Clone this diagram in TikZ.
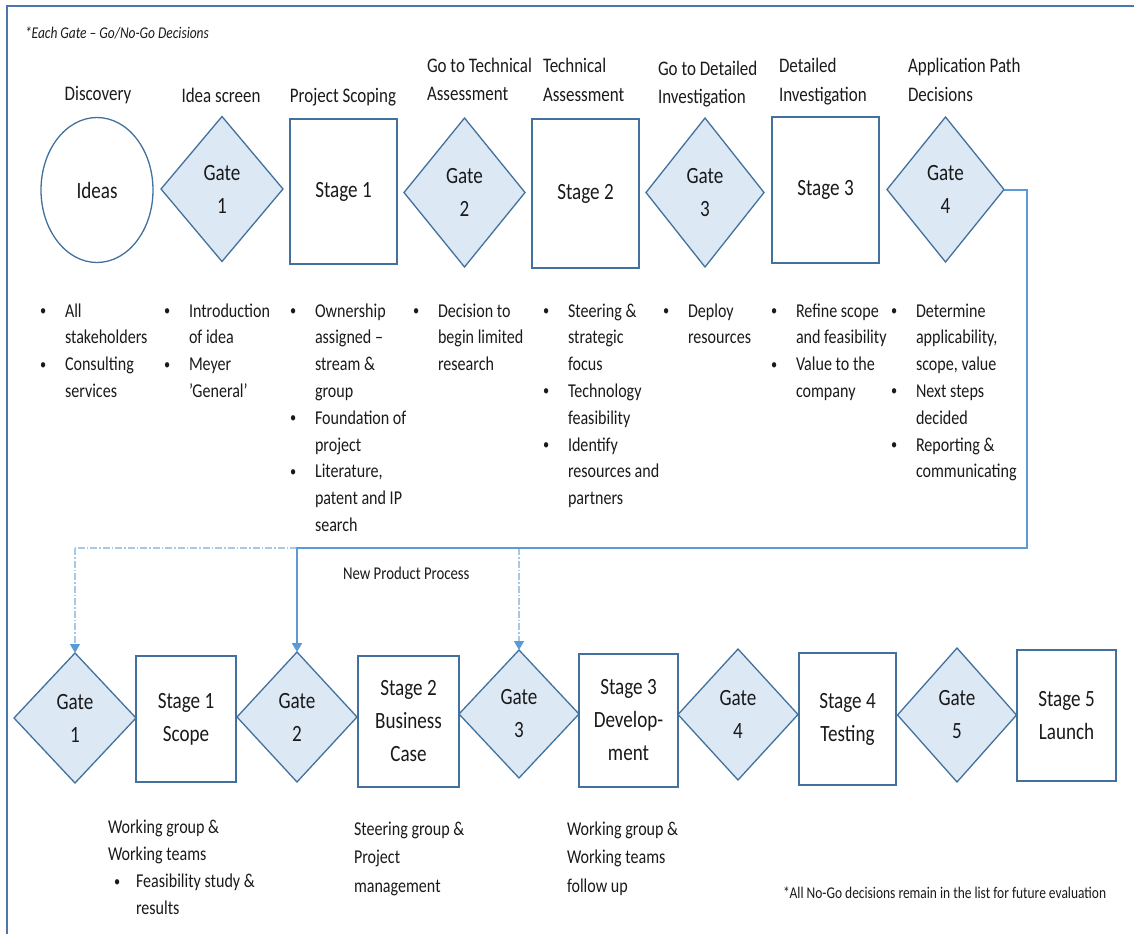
\documentclass[tikz,border=0pt]{standalone}
\usepackage{fontspec}
\setmainfont{Carlito}[FakeStretch=0.82]
\usetikzlibrary{shapes.geometric,arrows.meta}

\definecolor{edgeblue}{HTML}{41719C}
\definecolor{gatefill}{HTML}{DDE8F5}
\definecolor{flowblue}{HTML}{5B9BD5}
\definecolor{flowpale}{HTML}{A9C8E8}
\definecolor{frameblue}{HTML}{4A78AE}
\definecolor{ink}{HTML}{1A1A1A}

% font sizes (1pt = one unit of the drawing)
\newcommand{\headfont}{\fontsize{20.7}{28.5}\selectfont}
\newcommand{\shapefont}{\fontsize{23.3}{33}\selectfont}
\newcommand{\listfont}{\fontsize{19.6}{26.8}\selectfont}
\newcommand{\notefont}{\fontsize{19.6}{27.3}\selectfont}
\newcommand{\notefontb}{\fontsize{19.6}{28.5}\selectfont}
\newcommand{\smallnote}{\fontsize{18}{20}\selectfont}
\newcommand{\tinynote}{\fontsize{16.4}{18}\selectfont}

% bullet list helpers
\newcommand{\bulletdot}{\raisebox{1.5pt}{\fontsize{15}{15}\selectfont •}}
\newcommand{\bul}{\makebox[25pt][l]{\bulletdot}}
\newcommand{\ind}{\hspace*{25pt}}
\newcommand{\textblock}[2]{\parbox[t]{220pt}{#1\raggedright #2}}

\begin{document}
\begin{tikzpicture}[x=1pt, y=-1pt,
  every node/.style={inner sep=0pt, outer sep=0pt, text=ink},
  gate/.style={diamond, draw=edgeblue, fill=gatefill, line width=1.3pt,
    align=center, font=\shapefont},
  stagebox/.style={rectangle, draw=edgeblue, fill=white, line width=1.3pt,
    align=center, font=\shapefont},
  idea/.style={ellipse, draw=edgeblue, fill=white, line width=1.3pt,
    font=\shapefont},
  heading/.style={anchor=base west},
  title/.style={anchor=base, font=\headfont},
  block/.style={anchor=base west},
  flowline/.style={draw=flowblue, line width=2pt,
    -{Triangle[width=10pt,length=9pt,color=flowblue]}},
  paleline/.style={draw=flowpale, line width=1.3pt,
    dash pattern=on 7pt off 2pt on 1.5pt off 2pt},
  paletip/.style={paleline,
    -{Triangle[width=10pt,length=9pt,color=flowblue]}}
]
\useasboundingbox (0,0) rectangle (1134,934);

% open frame
\draw[frameblue, line width=2pt] (7,934) -- (7,6) -- (1134,6);

\node[block, font=\tinynote\itshape] (eachgate) at (25,38)
  {*Each Gate – Go/No-Go Decisions};

% ---------- upper row: front end ----------
\node[idea, minimum width=112pt, minimum height=145pt] (ideas) at (97,190) {Ideas};
\node[gate, minimum width=122pt, minimum height=145pt] (tg1) at (222,189) {Gate\\1};
\node[stagebox, minimum width=107pt, minimum height=145pt] (ts1) at (343.5,191.5) {Stage 1};
\node[gate, minimum width=121pt, minimum height=149pt] (tg2) at (464.5,192.5) {Gate\\2};
\node[stagebox, minimum width=107pt, minimum height=149pt] (ts2) at (585.5,193.5) {Stage 2};
\node[gate, minimum width=118pt, minimum height=149pt] (tg3) at (705,192.5) {Gate\\3};
\node[stagebox, minimum width=107pt, minimum height=146pt] (ts3) at (825.5,190) {Stage 3};
\node[gate, minimum width=117pt, minimum height=145pt] (tg4) at (945.5,189.5) {Gate\\4};

% headings above the shapes
\node[title] (hdisc) at (98,100) {Discovery};
\node[title] (hscreen) at (221,102) {Idea screen};
\node[title] (hscope) at (343,102) {Project Scoping};
\node[heading] (hgotech) at (427,72) {\textblock{\headfont}{Go to Technical\\Assessment}};
\node[heading] (htech) at (543,73) {\textblock{\headfont}{Technical\\Assessment}};
\node[heading] (hgodet) at (658,75) {\textblock{\headfont}{Go to Detailed\\Investigation}};
\node[heading] (hdet) at (779,73) {\textblock{\headfont}{Detailed\\Investigation}};
\node[heading] (happ) at (908,73) {\textblock{\headfont}{Application Path\\Decisions}};

% bullet lists under the upper row
\node[block] (l1) at (40,317) {\textblock{\listfont}{%
  \bul All\\\ind stakeholders\\\bul Consulting\\\ind services}};
\node[block] (l2) at (164,317) {\textblock{\listfont}{%
  \bul Introduction\\\ind of idea\\\bul Meyer\\\ind ’General’}};
\node[block] (l3) at (290,317) {\textblock{\listfont}{%
  \bul Ownership\\\ind assigned –\\\ind stream \&\\\ind group\\
  \bul Foundation of\\\ind project\\\bul Literature,\\\ind patent and IP\\\ind search}};
\node[block] (l4) at (413,317) {\textblock{\listfont}{%
  \bul Decision to\\\ind begin limited\\\ind research}};
\node[block] (l5) at (543,317) {\textblock{\listfont}{%
  \bul Steering \&\\\ind strategic\\\ind focus\\\bul Technology\\\ind feasibility\\
  \bul Identify\\\ind resources and\\\ind partners}};
\node[block] (l6) at (663,317) {\textblock{\listfont}{%
  \bul Deploy\\\ind resources}};
\node[block] (l7) at (771,317) {\textblock{\listfont}{%
  \bul Refine scope\\\ind and feasibility\\\bul Value to the\\\ind company}};
\node[block] (l8) at (891,317) {\textblock{\listfont}{%
  \bul Determine\\\ind applicability,\\\ind scope, value\\\bul Next steps\\\ind decided\\
  \bul Reporting \&\\\ind communicating}};

% ---------- lower row: new product process ----------
\node[gate, minimum width=122pt, minimum height=130pt] (bg1) at (75,718) {Gate\\1};
\node[stagebox, minimum width=100pt, minimum height=126pt] (bs1) at (186,719) {Stage 1\\Scope};
\node[gate, minimum width=120pt, minimum height=130pt] (bg2) at (297,717) {Gate\\2};
\node[stagebox, minimum width=101pt, minimum height=131pt] (bs2) at (408.5,721.5) {Stage 2\\Business\\Case};
\node[gate, minimum width=120pt, minimum height=128pt] (bg3) at (519,714) {Gate\\3};
\node[stagebox, minimum width=99pt, minimum height=133pt] (bs3) at (628.5,720.5) {Stage 3\\Develop-\\ment};
\node[gate, minimum width=120pt, minimum height=131pt] (bg4) at (738,714.5) {Gate\\4};
\node[stagebox, minimum width=97pt, minimum height=132pt] (bs4) at (847.5,719) {Stage 4\\Testing};
\node[gate, minimum width=119pt, minimum height=134pt] (bg5) at (957,715) {Gate\\5};
\node[stagebox, minimum width=99pt, minimum height=131pt] (bs5) at (1066.5,715.5) {Stage 5\\Launch};

\node[block, font=\smallnote] (npp) at (343,579) {New Product Process};

% hand-over from the front end to the new product process
\coordinate (corner) at (1027,548);
\draw[paleline] (bg2.north |- corner) -- (bg1.north |- corner);
\draw[paletip] (bg1.north |- corner) -- (bg1.north);
\draw[paletip] (bg3.north |- corner) -- (bg3.north);
\draw[flowline] (tg4.east) -| (corner) -- (bg2.north |- corner) -- (bg2.north);

% notes under the lower row
\node[block] (n1) at (108,833) {\textblock{\notefont}{%
  Working group \&\\Working teams\\
  \hspace*{6pt}\makebox[22pt][l]{\bulletdot}Feasibility study \&\\\hspace*{28pt}results}};
\node[block] (n2) at (354,835) {\textblock{\notefontb}{%
  Steering group \&\\Project\\management}};
\node[block] (n3) at (567,835) {\textblock{\notefontb}{%
  Working group \&\\Working teams\\follow up}};
\node[block, font=\tinynote] (nogo) at (783,898)
  {*All No-Go decisions remain in the list for future evaluation};
\end{tikzpicture}
\end{document}
